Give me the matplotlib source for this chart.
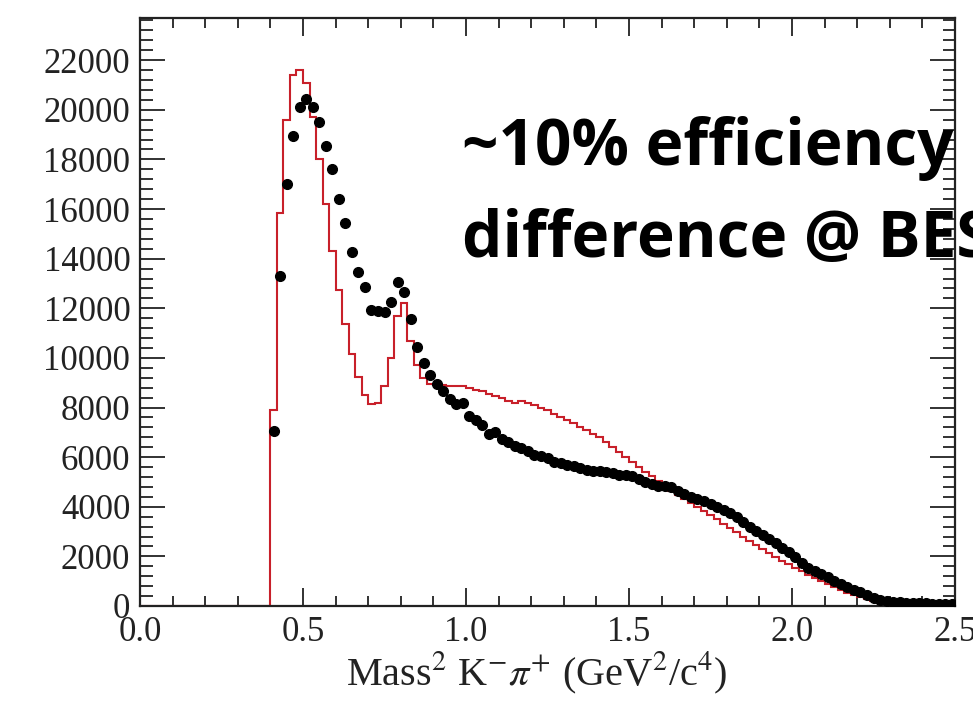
import numpy as np
import matplotlib
matplotlib.use("Agg")
import matplotlib.pyplot as plt
from matplotlib.ticker import MultipleLocator

plt.rcParams['font.family'] = ['Liberation Serif', 'DejaVu Serif']
plt.rcParams['mathtext.fontset'] = 'stix'

# red MC histogram, bins of 0.02 from 0.40 to 2.50 (zero below 0.40)
red_vals = [7900, 15850, 19600, 21400, 21600, 21100, 19700, 18000, 16200, 14300,
            12750, 11350, 10150, 9250, 8500, 8150, 8200, 8850, 10000, 11700,
            12200, 10700, 9700, 9200, 8950, 8900, 8900, 8880, 8860, 8850,
            8800, 8720, 8650, 8560, 8460, 8380, 8280, 8200, 8250, 8200,
            8100, 8000, 7880, 7750, 7620, 7500, 7370, 7230, 7100, 6950,
            6800, 6600, 6400, 6200, 6000, 5800, 5620, 5420, 5220, 5050,
            4850, 4650, 4480, 4300, 4150, 3980, 3820, 3660, 3500, 3320,
            3150, 2980, 2800, 2630, 2460, 2300, 2130, 1980, 1820, 1680,
            1540, 1400, 1260, 1130, 1000, 870, 750, 640, 540, 440,
            350, 270, 200, 140, 90, 60, 40, 25, 15, 10,
            5, 3, 2, 0, 0]

# black data points at bin centres 0.41 ... 2.49
data_vals = [7050, 13300, 17000, 18950, 20100, 20450, 20100, 19500, 18550, 17600,
             16400, 15450, 14250, 13450, 12850, 11950, 11900, 11850, 12250, 13050,
             12650, 11550, 10450, 9800, 9300, 8950, 8650, 8350, 8150, 8200,
             7650, 7500, 7300, 6950, 7000, 6750, 6600, 6450, 6350, 6250,
             6100, 6050, 5950, 5800, 5750, 5700, 5650, 5550, 5480, 5450,
             5450, 5420, 5380, 5300, 5280, 5220, 5100, 5000, 4900, 4850,
             4850, 4800, 4650, 4520, 4400, 4300, 4220, 4130, 4000, 3880,
             3750, 3600, 3400, 3200, 3030, 2870, 2700, 2520, 2350, 2180,
             1990, 1750, 1550, 1430, 1300, 1180, 1020, 900, 780, 660,
             550, 430, 330, 250, 200, 170, 160, 140, 130, 120,
             110, 100, 100, 90, 90]

edges = np.round(np.arange(0.0, 2.5001, 0.02), 4)
red_full = np.concatenate([np.zeros(20), red_vals])
centers = edges[20:-1] + 0.01

fig = plt.figure(figsize=(9.73, 7.18), dpi=100)
ax = fig.add_axes([140/973, 1 - 606/718, 815/973, 588/718])

ax.stairs(red_full, edges, color='#c8202a', lw=1.5, zorder=2)
ax.plot(centers, data_vals, 'o', color='black', ms=7, zorder=3)

ax.set_xlim(0, 2.5)
ax.set_ylim(0, 23700)

ax.xaxis.set_major_locator(MultipleLocator(0.5))
ax.xaxis.set_minor_locator(MultipleLocator(0.1))
ax.yaxis.set_major_locator(MultipleLocator(2000))
ax.yaxis.set_minor_locator(MultipleLocator(400))
ax.xaxis.set_major_formatter(matplotlib.ticker.FormatStrFormatter('%.1f'))

ax.tick_params(axis='both', which='both', direction='in', top=True, right=True,
               width=1.3, labelsize=25, colors='#222222')
ax.tick_params(axis='y', which='major', length=18, pad=7)
ax.tick_params(axis='y', which='minor', length=9)
ax.tick_params(axis='x', which='major', length=13, pad=7)
ax.tick_params(axis='x', which='minor', length=7)
for sp in ax.spines.values():
    sp.set_linewidth(1.6)
    sp.set_color('#222222')

ax.set_xlabel(r'Mass$^{2}$ K$^{-}\pi^{+}$ (GeV$^{2}$/c$^{4}$)', fontsize=29,
              color='#222222')
ax.xaxis.set_label_coords(0.487, -0.075)

fig.text(462/973, 1 - 165/718, '~10% efficiency', fontsize=46, fontweight='bold',
         family='Open Sans', color='black', zorder=10)
fig.text(462/973, 1 - 257/718, 'difference @ BESIII', fontsize=46, fontweight='bold',
         family='Open Sans', color='black', zorder=10)

fig.savefig('out.png', dpi=100)
